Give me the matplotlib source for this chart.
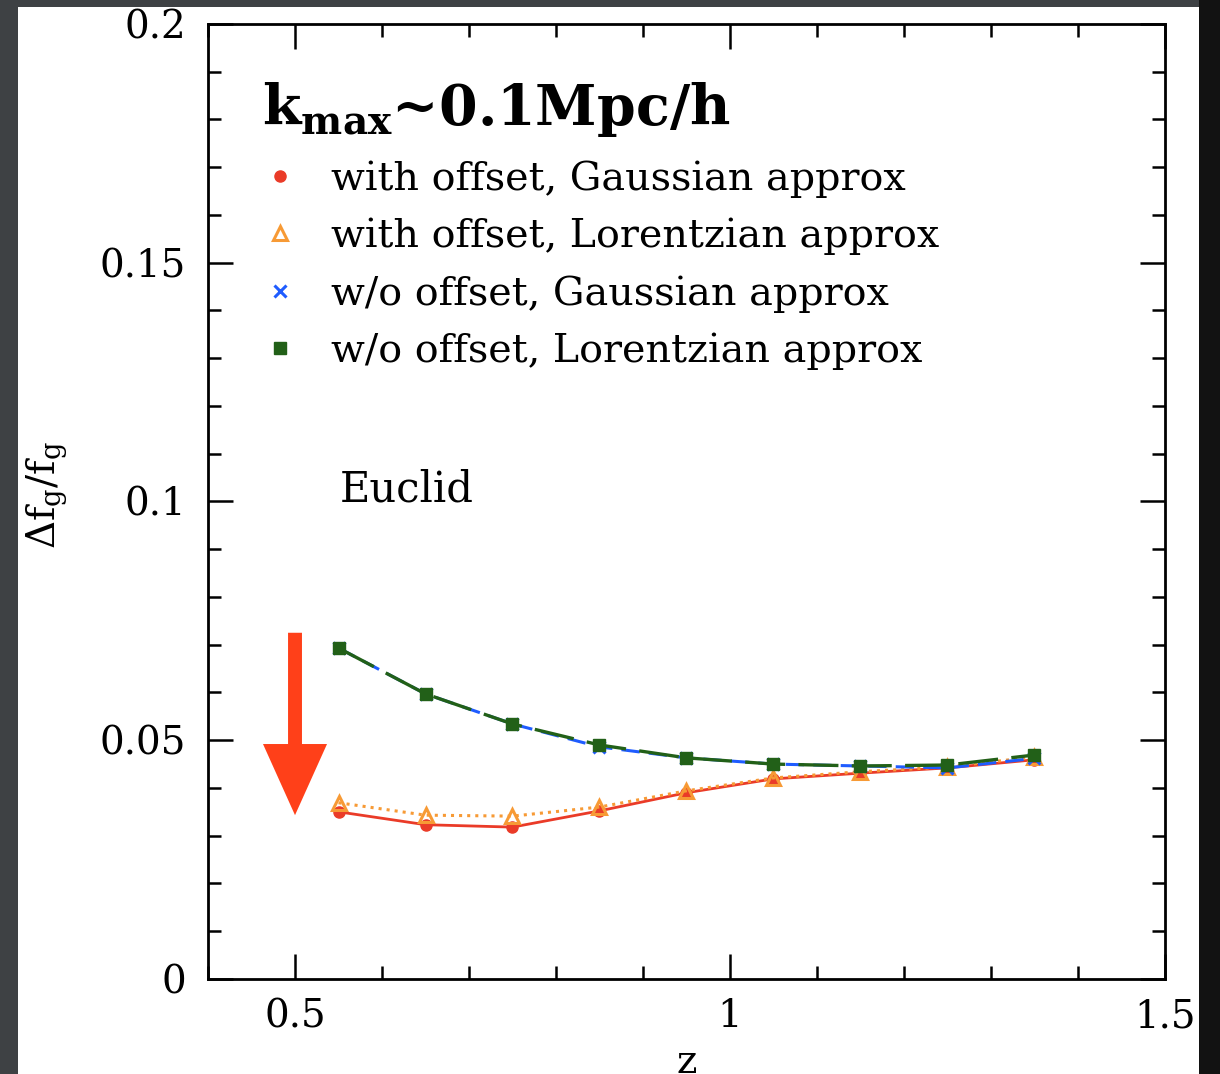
import numpy as np
import matplotlib as mpl
mpl.use("Agg")
import matplotlib.pyplot as plt
from matplotlib.patches import Rectangle

mpl.rcParams['font.family'] = ['DejaVu Serif']
mpl.rcParams['mathtext.fontset'] = 'custom'
mpl.rcParams['mathtext.rm'] = 'DejaVu Serif'
mpl.rcParams['mathtext.bf'] = 'DejaVu Serif:bold'

z = [0.55, 0.65, 0.75, 0.85, 0.95, 1.05, 1.15, 1.25, 1.35]
off_gauss = [0.0350, 0.0323, 0.0318, 0.0352, 0.0390, 0.0419, 0.0431, 0.0442, 0.0459]
off_lor = [0.0369, 0.0343, 0.0341, 0.0360, 0.0394, 0.0421, 0.0434, 0.0444, 0.0465]
nooff_gauss = [0.0693, 0.0597, 0.0534, 0.0486, 0.0463, 0.0450, 0.0446, 0.0442, 0.0462]
nooff_lor = [0.0693, 0.0597, 0.0534, 0.0490, 0.0463, 0.0450, 0.0446, 0.0448, 0.0469]

labels = ["with offset, Gaussian approx",
          "with offset, Lorentzian approx",
          "w/o offset, Gaussian approx",
          "w/o offset, Lorentzian approx"]

fig = plt.figure(figsize=(12.2, 10.74), dpi=100, facecolor='#3e4144')
fig.patches.append(Rectangle((0.983, 0), 0.017, 1, transform=fig.transFigure,
                             facecolor='#121212', edgecolor='none', zorder=-2))
fig.patches.append(Rectangle((0.0148, 0), 0.968, 0.9935, transform=fig.transFigure,
                             facecolor='white', edgecolor='none', zorder=-1))

ax = fig.add_axes([0.1705, 0.0885, 0.7844, 0.8892])
ax.set_facecolor('none')

l1, = ax.plot(z, off_gauss, '-', color='#ea3b28', lw=2, marker='o', ms=8,
              mec='#ea3b28', mfc='#ea3b28')
l2, = ax.plot(z, off_lor, ':', color='#f79a35', lw=2.2, marker='^', ms=10,
              mfc='none', mec='#f79a35', mew=2.2)
l3, = ax.plot(z, nooff_gauss, color='#1f5cff', lw=2.2, dashes=(6, 3), marker='x',
              ms=8, mew=2.2)
l4, = ax.plot(z, nooff_lor, color='#226018', lw=2.4, dashes=(12, 4), marker='s',
              ms=8, mec='#226018', mfc='#226018')

ax.arrow(0.5, 0.0725, 0, -0.0382, width=0.016, head_width=0.0736,
         head_length=0.0149, length_includes_head=True, color='#ff4019',
         ec='none', clip_on=False, zorder=5)

ax.set_xlim(0.4, 1.5)
ax.set_ylim(0, 0.2)
ax.set_xticks([0.5, 1.0, 1.5])
ax.set_xticklabels(['0.5', '1', '1.5'])
ax.set_xticks(np.arange(0.4, 1.51, 0.1), minor=True)
ax.set_yticks([0, 0.05, 0.1, 0.15, 0.2])
ax.set_yticklabels(['0', '0.05', '0.1', '0.15', '0.2'])
ax.set_yticks(np.arange(0, 0.201, 0.01), minor=True)
ax.tick_params(which='both', direction='in', top=True, right=True, width=1.8,
               labelsize=28)
ax.tick_params(which='major', length=18)
ax.tick_params(which='minor', length=9.5)
ax.tick_params(axis='y', pad=16)
ax.tick_params(axis='x', pad=14)
for s in ax.spines.values():
    s.set_linewidth(2)

ax.set_xlabel('z', fontsize=28)
ax.xaxis.set_label_coords(0.5, -0.068)
ax.set_ylabel(r'$\Delta$f$_{\rm g}$/f$_{\rm g}$', fontsize=28)
ax.yaxis.set_label_coords(-0.145, 0.507)

ax.text(0.0565, 0.910, r'k$_{\mathbf{max}}$~0.1Mpc/h', transform=ax.transAxes,
        fontsize=40, fontweight='bold', va='center')
ax.text(0.5517, 0.1024, 'Euclid', fontsize=30, va='center')

ax.legend([l1, l2, l3, l4], labels, loc='upper left', bbox_to_anchor=(0.0752, 0.857),
          frameon=False, fontsize=28.5, handlelength=0, handletextpad=1.3,
          borderpad=0, borderaxespad=0, labelspacing=0.5, numpoints=1)

plt.savefig('out.png', dpi=100, facecolor=fig.get_facecolor())
